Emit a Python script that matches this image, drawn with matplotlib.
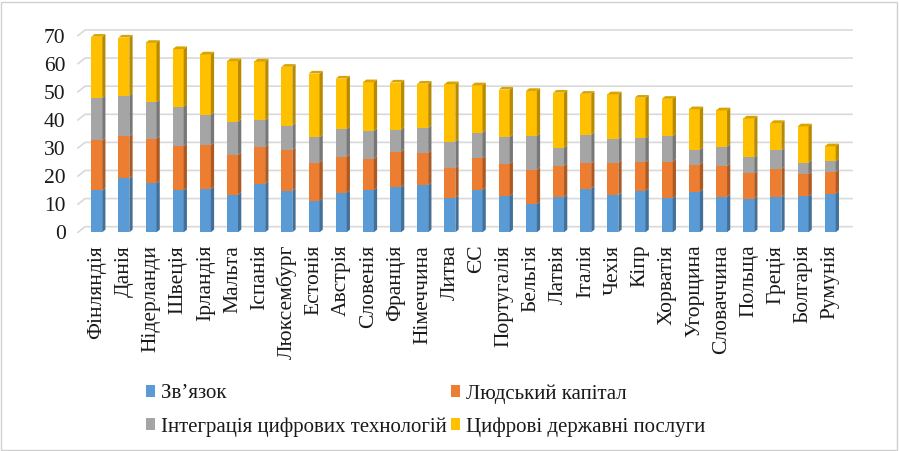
import matplotlib
matplotlib.use("Agg")
import matplotlib.pyplot as plt
from matplotlib.patches import Polygon, Rectangle
import matplotlib.colors as mcolors
import numpy as np

# DESI-style index by country, split into four weighted dimensions
countries = ["Фінляндія", "Данія", "Нідерланди", "Швеція", "Ірландія", "Мальта",
             "Іспанія", "Люксембург", "Естонія", "Австрія", "Словенія", "Франція",
             "Німеччина", "Литва", "ЄС", "Португалія", "Бельгія", "Латвія",
             "Італія", "Чехія", "Кіпр", "Хорватія", "Угорщина", "Словаччина",
             "Польща", "Греція", "Болгарія", "Румунія"]

connectivity = [14.9, 19.2, 17.4, 14.9, 15.4, 13.3, 17.3, 14.8, 11.2, 14.1, 15.1, 16.0,
                16.8, 12.3, 15.1, 12.9, 10.0, 12.6, 15.5, 13.3, 14.8, 12.1, 14.5, 12.6,
                11.9, 12.5, 12.8, 13.8]
human_capital = [17.8, 15.0, 15.9, 15.7, 15.7, 14.2, 13.1, 14.5, 13.6, 12.8, 11.1, 12.7,
                 11.4, 10.6, 11.2, 11.5, 12.3, 11.0, 9.0, 11.5, 10.1, 13.0, 9.6, 11.0,
                 9.1, 10.0, 7.8, 7.6]
integration = [15.1, 14.4, 13.0, 14.1, 10.7, 11.9, 9.5, 8.7, 9.0, 9.9, 9.9, 7.8,
               8.9, 9.4, 9.2, 9.5, 12.0, 6.5, 10.2, 8.4, 8.6, 9.1, 5.3, 6.9,
               5.7, 6.7, 4.2, 3.9]
public_services = [21.8, 20.7, 21.1, 20.5, 21.5, 21.5, 20.9, 20.9, 22.7, 17.9, 17.3, 16.8,
                   15.8, 20.4, 16.8, 16.9, 16.0, 19.6, 14.6, 15.9, 14.4, 13.3, 14.4, 12.9,
                   13.8, 9.7, 12.9, 5.3]

series_names = ["Зв’язок", "Людський капітал",
                "Інтеграція цифрових технологій", "Цифрові державні послуги"]
series_values = [connectivity, human_capital, integration, public_services]
series_colors = ["#5B9BD5", "#ED7D31", "#A5A5A5", "#FFC000"]
y_ticks = [0, 10, 20, 30, 40, 50, 60, 70]

SERIF = ["Liberation Serif", "DejaVu Serif"]
plt.rcParams["font.family"] = SERIF
FS = 15.5
LEG_FS = 15
TEXT_COL = "#1A1A1A"

W, H = 899, 451
fig = plt.figure(figsize=(W / 100, H / 100), dpi=100)

# plot area placed in pixel terms
px_left, px_right, px_bottom, px_top = 78, 852, 232.3, 28.0
ax = fig.add_axes([px_left / W, 1 - px_bottom / H,
                   (px_right - px_left) / W, (px_bottom - px_top) / H])

x = np.arange(len(countries))
bar_w = 0.40         # front face width
dx, dy = 0.12, 0.95  # 3-D depth offset of side/top faces
wall_dy = 2.0        # back wall is raised relative to the front edge

x_lo = -0.69
x_back = -0.43
x_hi = 27.8
ax.set_xlim(x_lo, x_hi)
ax.set_ylim(0, (px_bottom - px_top) / 2.81)

# gridlines: short slant on the side wall, then along the back wall
for v in y_ticks:
    ax.plot([x_lo, x_back, x_hi], [v, v + wall_dy, v + wall_dy],
            color="#D9D9D9", lw=1.2, zorder=0, clip_on=False)


def darker(c, f):
    r, g, b = mcolors.to_rgb(c)
    return (r * f, g * f, b * f)


bottom = np.zeros(len(countries))
handles = []
for name, vals, col in zip(series_names, series_values, series_colors):
    vals = np.asarray(vals, dtype=float)
    bars = ax.bar(x, vals, bottom=bottom, width=bar_w, color=col,
                  edgecolor="none", label=name, zorder=3)
    handles.append(bars)
    side_col = darker(col, 0.72)
    for xi, b0, h in zip(x, bottom, vals):
        xr = xi + bar_w / 2
        ax.add_patch(Polygon([(xr, b0), (xr + dx, b0 + dy),
                              (xr + dx, b0 + h + dy), (xr, b0 + h)],
                             closed=True, facecolor=side_col,
                             edgecolor="none", zorder=3))
    bottom = bottom + vals

# top faces of the stacks
top_col = darker(series_colors[-1], 0.85)
for xi, t in zip(x, bottom):
    xl = xi - bar_w / 2
    xr = xi + bar_w / 2
    ax.add_patch(Polygon([(xl, t), (xl + dx, t + dy), (xr + dx, t + dy), (xr, t)],
                         closed=True, facecolor=top_col, edgecolor="none",
                         zorder=4, clip_on=False))

for s in ax.spines.values():
    s.set_visible(False)

ax.set_yticks(y_ticks)
ax.set_yticklabels([str(v) for v in y_ticks], fontsize=FS, color=TEXT_COL)
ax.set_xticks(x)
ax.set_xticklabels(countries, rotation=90, fontsize=FS, color=TEXT_COL)
ax.tick_params(axis="y", length=0, pad=9)
ax.tick_params(axis="x", length=0, pad=9)

# legend in two columns below the chart
leg = fig.legend(handles=[handles[0], handles[2], handles[1], handles[3]],
                 labels=[series_names[0], series_names[2],
                         series_names[1], series_names[3]],
                 ncol=2, loc="upper left",
                 bbox_to_anchor=(146 / W, 1 - 384 / H),
                 frameon=False, fontsize=LEG_FS, handlelength=0.42,
                 handleheight=0.55, handletextpad=0.3, columnspacing=0.22,
                 labelspacing=0.65, borderpad=0.0, borderaxespad=0.0)
for t in leg.get_texts():
    t.set_color(TEXT_COL)

# thin frame around the whole chart
fig.patches.append(Rectangle((1 / W, 1 / H), (W - 3) / W, (H - 3) / H,
                             transform=fig.transFigure, fill=False,
                             edgecolor="#D0D0D0", lw=1.0))

fig.savefig("out.png", dpi=100, facecolor="white")
